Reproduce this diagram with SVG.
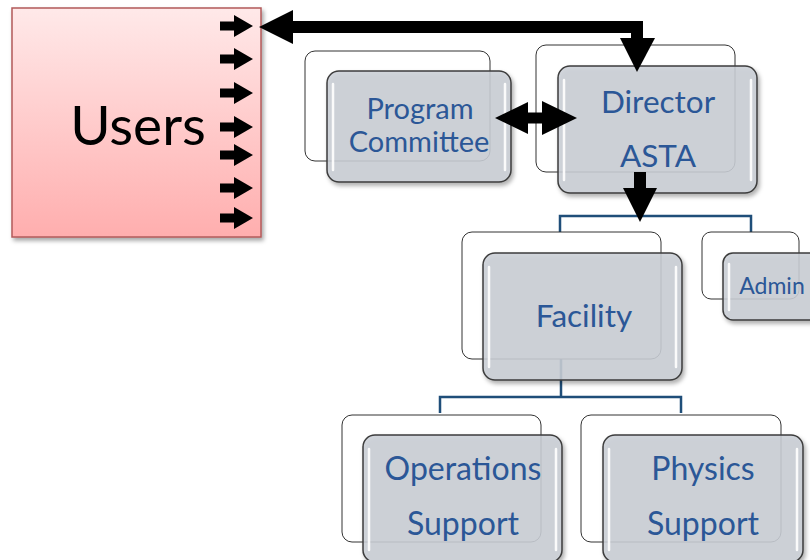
<svg xmlns="http://www.w3.org/2000/svg" xmlns:xlink="http://www.w3.org/1999/xlink" width="810" height="560" viewBox="0 0 810 560">
  <style>
    .back { fill: #ffffff; stroke: #333333; stroke-width: 1; }
    .front { fill: #cbcfd6; fill-opacity: 0.86; stroke: #3c3c3c; stroke-width: 1.5; filter: url(#shadow); }
    .gloss { stroke: #ffffff; stroke-width: 2.5; stroke-linecap: round; opacity: 0.9; }
    .label { font-family: Lato, "Liberation Sans", sans-serif; fill: #2b5797; text-anchor: middle; }
    .org { fill: none; stroke: #1f4e79; stroke-width: 2.5; }
    .arrow { fill: #000000; }
  </style>
  <defs>
    <linearGradient id="pink" x1="0" y1="0" x2="0" y2="1">
      <stop offset="0" stop-color="#ffe9e9"/>
      <stop offset="1" stop-color="#ffaeae"/>
    </linearGradient>
    <filter id="shadow" x="-10%" y="-10%" width="125%" height="130%">
      <feDropShadow dx="2" dy="3" stdDeviation="2" flood-color="#000000" flood-opacity="0.35"/>
    </filter>
    <path id="tick" d="M0,-4.5 H14 V-11 L33,0 L14,11 V4.5 H0 Z"/>
  </defs>

  <rect width="810" height="560" fill="#ffffff"/>

  <!-- org-chart lines (behind the boxes) -->
  <g id="connectors">
    <path class="org" d="M560,232 V216 H751 V232"/>
    <path class="org" d="M561,300 V397 M440,413 V397 H681 V413"/>
  </g>

  <g id="users">
    <rect x="12" y="8" width="249" height="229" fill="url(#pink)" stroke="#b25a5a" stroke-width="1.5" filter="url(#shadow)"/>
    <text x="138" y="145" font-family="Lato, 'Liberation Sans', sans-serif" font-size="55" text-anchor="middle" fill="#000000">Users</text>
    <g class="arrow">
      <use xlink:href="#tick" x="220" y="26"/>
      <use xlink:href="#tick" x="220" y="59"/>
      <use xlink:href="#tick" x="220" y="93"/>
      <use xlink:href="#tick" x="220" y="127"/>
      <use xlink:href="#tick" x="220" y="155"/>
      <use xlink:href="#tick" x="220" y="188"/>
      <use xlink:href="#tick" x="220" y="218"/>
    </g>
  </g>

  <g id="program-committee">
    <rect class="back" x="305" y="51" width="185" height="110" rx="10"/>
    <rect class="front" x="327" y="71" width="184" height="111" rx="12"/>
    <line class="gloss" x1="333" y1="84" x2="333" y2="170"/>
    <line class="gloss" x1="505" y1="84" x2="505" y2="170"/>
    <text class="label" x="420" y="119" font-size="29">Program</text>
    <text class="label" x="419" y="152" font-size="29">Committee</text>
  </g>

  <g id="director">
    <rect class="back" x="536" y="45" width="199" height="127" rx="10"/>
    <rect class="front" x="558" y="66" width="199" height="127" rx="12"/>
    <line class="gloss" x1="564" y1="80" x2="564" y2="180"/>
    <line class="gloss" x1="751" y1="80" x2="751" y2="180"/>
    <text class="label" x="658" y="113" font-size="31.5">Director</text>
    <text class="label" x="658" y="167" font-size="31.5">ASTA</text>
  </g>

  <g id="facility">
    <rect class="back" x="462" y="232" width="199" height="127" rx="10"/>
    <rect class="front" x="483" y="253" width="199" height="127" rx="12"/>
    <line class="gloss" x1="489" y1="267" x2="489" y2="367"/>
    <line class="gloss" x1="676" y1="267" x2="676" y2="367"/>
    <text class="label" x="584" y="327" font-size="31.5">Facility</text>
  </g>

  <g id="admin">
    <rect class="back" x="702" y="232" width="97" height="67" rx="9"/>
    <rect class="front" x="723" y="253" width="99" height="67" rx="10"/>
    <line class="gloss" x1="729" y1="264" x2="729" y2="310"/>
    <text class="label" x="772" y="294" font-size="23">Admin</text>
  </g>

  <g id="operations-support">
    <rect class="back" x="342" y="415" width="199" height="127" rx="10"/>
    <rect class="front" x="363" y="435" width="199" height="127" rx="12"/>
    <line class="gloss" x1="369" y1="449" x2="369" y2="550"/>
    <line class="gloss" x1="556" y1="449" x2="556" y2="550"/>
    <text class="label" x="463" y="480" font-size="32">Operations</text>
    <text class="label" x="463" y="535" font-size="32">Support</text>
  </g>

  <g id="physics-support">
    <rect class="back" x="581" y="415" width="200" height="127" rx="10"/>
    <rect class="front" x="603" y="435" width="200" height="127" rx="12"/>
    <line class="gloss" x1="609" y1="449" x2="609" y2="550"/>
    <line class="gloss" x1="797" y1="449" x2="797" y2="550"/>
    <text class="label" x="703" y="480" font-size="32">Physics</text>
    <text class="label" x="703" y="535" font-size="32">Support</text>
  </g>

  <!-- heavy black arrows -->
  <g id="arrows" class="arrow">
    <!-- Users <-> Director -->
    <path d="M290,27 H637 V42" fill="none" stroke="#000000" stroke-width="12"/>
    <polygon points="259,27 293,10 293,44"/>
    <polygon points="637,72 620,38 655,38"/>
    <!-- Program Committee <-> Director -->
    <rect x="526" y="112.5" width="18" height="11"/>
    <polygon points="495,118 528,102 528,134"/>
    <polygon points="577,118 542,101 542,135"/>
    <!-- Director -> Facility -->
    <rect x="634" y="172" width="12" height="18"/>
    <polygon points="640,222 623,188 657,188"/>
  </g>
</svg>
